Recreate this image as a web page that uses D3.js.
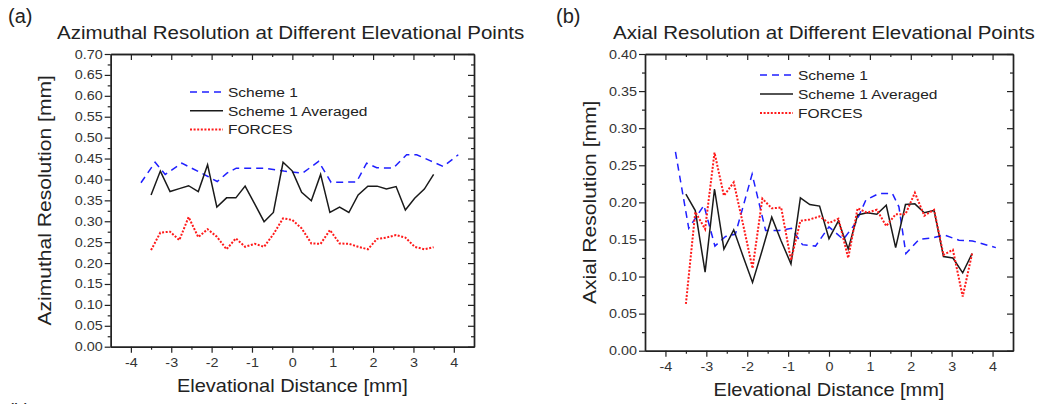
<!DOCTYPE html>
<html>
<head>
<meta charset="utf-8">
<script src="https://cdn.jsdelivr.net/npm/d3@7"></script>
<style>
  body { margin: 0; background: #fff; }
  svg { display: block; font-family: "Liberation Sans", Arial, sans-serif; }
</style>
</head>
<body>
<svg id="fig" width="1047" height="404"></svg>
<script>
// ---- data -------------------------------------------------------------
// Elevational sample positions (mm) of the averaged and FORCES series
const elevation = [-3.50, -3.27, -3.03, -2.80, -2.57, -2.33, -2.10, -1.87, -1.63, -1.40,
  -1.17, -0.93, -0.70, -0.47, -0.23, 0.00, 0.23, 0.47, 0.70, 0.93, 1.17, 1.40, 1.63,
  1.87, 2.10, 2.33, 2.57, 2.80, 3.03, 3.27, 3.50];

// (a) azimuthal resolution [mm]
const azScheme1X = [-3.75, -3.40, -3.15, -2.74, -2.33, -2.09, -1.86, -1.62, -1.39, -0.68,
  -0.21, 0.25, 0.65, 0.96, 1.59, 1.84, 2.09, 2.50, 2.83, 3.08, 3.41, 3.74, 4.11];
const azScheme1 = [0.392, 0.441, 0.412, 0.439, 0.419, 0.407, 0.395, 0.415, 0.427, 0.427,
  0.420, 0.415, 0.443, 0.393, 0.394, 0.439, 0.428, 0.427, 0.459, 0.459, 0.445, 0.431, 0.459];
const azAveraged = [0.363, 0.420, 0.371, 0.378, 0.385, 0.371, 0.435, 0.334, 0.356, 0.356,
  0.384, 0.341, 0.299, 0.321, 0.441, 0.420, 0.369, 0.349, 0.412, 0.321, 0.334, 0.321,
  0.363, 0.384, 0.384, 0.377, 0.383, 0.327, 0.355, 0.377, 0.412];
const azForces = [0.231, 0.273, 0.275, 0.255, 0.310, 0.262, 0.281, 0.263, 0.233, 0.259,
  0.239, 0.246, 0.239, 0.269, 0.307, 0.303, 0.283, 0.247, 0.246, 0.279, 0.247, 0.246,
  0.239, 0.233, 0.258, 0.261, 0.267, 0.261, 0.239, 0.233, 0.238];

// (b) axial resolution [mm]
const axScheme1X = [-3.755, -3.43, -3.06, -2.79, -2.53, -2.29, -1.88, -1.55, -1.22, -0.92,
  -0.65, -0.33, 0.00, 0.35, 0.65, 0.90, 1.22, 1.55, 1.71, 1.88, 2.20, 2.53, 2.82, 3.18, 3.51, 4.08];
const axScheme1 = [0.268, 0.165, 0.196, 0.141, 0.154, 0.157, 0.238, 0.162, 0.162, 0.165,
  0.143, 0.141, 0.167, 0.150, 0.172, 0.203, 0.212, 0.212, 0.194, 0.131, 0.150, 0.152,
  0.156, 0.149, 0.148, 0.139];
const axAveraged = [0.211, 0.189, 0.106, 0.218, 0.137, 0.163, 0.127, 0.092, 0.136, 0.180,
  0.148, 0.117, 0.206, 0.197, 0.195, 0.151, 0.175, 0.137, 0.183, 0.186, 0.184, 0.196,
  0.139, 0.197, 0.198, 0.186, 0.189, 0.127, 0.125, 0.105, 0.131];
const axForces = [0.063, 0.187, 0.164, 0.267, 0.209, 0.227, 0.170, 0.111, 0.205, 0.192,
  0.193, 0.122, 0.175, 0.177, 0.181, 0.172, 0.178, 0.125, 0.192, 0.186, 0.190, 0.168,
  0.184, 0.184, 0.213, 0.182, 0.190, 0.129, 0.136, 0.073, 0.131];

// ticks
const xTickValues = [-4, -3, -2, -1, 0, 1, 2, 3, 4];
const azTickValues = [0, 0.05, 0.10, 0.15, 0.20, 0.25, 0.30, 0.35, 0.40, 0.45, 0.50, 0.55, 0.60, 0.65, 0.70];
const axTickValues = [0, 0.05, 0.10, 0.15, 0.20, 0.25, 0.30, 0.35, 0.40];
const seriesNames = ["Scheme 1", "Scheme 1 Averaged", "FORCES"];

// ---- drawing ----------------------------------------------------------
const svg = d3.select("#fig");
const INK = "#222";
const WIDE = 1.15;   // horizontal stretch of the lettering
const styles = [
  { color: "#1f1fff", width: 1.5, dash: "7,5" },
  { color: "#1a1a1a", width: 1.5, dash: null },
  { color: "#ff1a1a", width: 2, dash: "2,1.6" }
];

// text placed at (x, y), widened horizontally by sx
function wideText(parent, x, y, str, size, sx, anchor) {
  return parent.append("text")
    .attr("transform", `translate(${x},${y}) scale(${sx},1)`)
    .attr("text-anchor", anchor || "start")
    .attr("fill", INK)
    .style("font-size", size + "px")
    .text(str);
}

function drawPanel(cfg) {
  const g = svg.append("g");
  const x = d3.scaleLinear().domain([-4.5, 4.5]).range([cfg.left, cfg.right]);
  const y = d3.scaleLinear().domain([0, cfg.yMax]).range([cfg.bottom, cfg.top]);

  const xMinor = d3.range(-3.5, 4, 1);
  const yMinor = d3.range(0.025, cfg.yMax, 0.05);

  const styleAxis = sel => {
    sel.selectAll(".domain").attr("stroke", INK).attr("stroke-width", 1.4);
    sel.selectAll(".tick line").attr("stroke", INK).attr("stroke-width", 1.2);
    sel.selectAll(".tick text").attr("fill", "#333").style("font-size", "12.5px")
      .style("font-family", "'Liberation Sans', Arial, sans-serif")
      .each(function () {
        const t = d3.select(this);
        const xv = +t.attr("x") || 0;
        t.attr("x", xv / WIDE).attr("transform", `scale(${WIDE},1)`);
      });
  };

  // bottom axis
  g.append("g").attr("transform", `translate(0,${cfg.bottom})`)
    .call(d3.axisBottom(x).tickValues(xMinor).tickSize(3).tickSizeOuter(0).tickFormat(""))
    .call(styleAxis);
  g.append("g").attr("transform", `translate(0,${cfg.bottom})`)
    .call(d3.axisBottom(x).tickValues(xTickValues).tickSize(6).tickSizeOuter(0).tickPadding(5)
      .tickFormat(d => String(d)))
    .call(styleAxis);
  // top axis, ticks pointing inward
  g.append("g").attr("transform", `translate(0,${cfg.top})`)
    .call(d3.axisBottom(x).tickValues(xMinor).tickSize(3).tickSizeOuter(0).tickFormat(""))
    .call(styleAxis);
  g.append("g").attr("transform", `translate(0,${cfg.top})`)
    .call(d3.axisBottom(x).tickValues(xTickValues).tickSize(6).tickSizeOuter(0).tickFormat(""))
    .call(styleAxis);
  // left axis
  g.append("g").attr("transform", `translate(${cfg.left},0)`)
    .call(d3.axisLeft(y).tickValues(yMinor).tickSize(3).tickSizeOuter(0).tickFormat(""))
    .call(styleAxis);
  g.append("g").attr("transform", `translate(${cfg.left},0)`)
    .call(d3.axisLeft(y).tickValues(cfg.ticks).tickSize(6).tickSizeOuter(0).tickPadding(2)
      .tickFormat(d3.format(".2f")))
    .call(styleAxis);
  // right axis, ticks pointing inward
  g.append("g").attr("transform", `translate(${cfg.right},0)`)
    .call(d3.axisLeft(y).tickValues(yMinor).tickSize(3).tickSizeOuter(0).tickFormat(""))
    .call(styleAxis);
  g.append("g").attr("transform", `translate(${cfg.right},0)`)
    .call(d3.axisLeft(y).tickValues(cfg.ticks).tickSize(6).tickSizeOuter(0).tickFormat(""))
    .call(styleAxis);

  // series
  const line = d3.line().x(d => x(d[0])).y(d => y(d[1]));
  cfg.series.forEach((s, i) => {
    const st = styles[i];
    g.append("path")
      .datum(d3.zip(s.x, s.y))
      .attr("d", line)
      .attr("fill", "none")
      .attr("stroke", st.color)
      .attr("stroke-width", st.width)
      .attr("stroke-linejoin", "miter")
      .attr("stroke-dasharray", st.dash);
  });

  // legend
  const lg = g.append("g").attr("transform", `translate(${cfg.legend[0]},${cfg.legend[1]})`);
  seriesNames.forEach((name, i) => {
    const st = styles[i];
    const ly = i * cfg.legendStep;
    lg.append("line").attr("x1", 0).attr("x2", 33).attr("y1", ly).attr("y2", ly)
      .attr("stroke", st.color).attr("stroke-width", st.width)
      .attr("stroke-dasharray", st.dash);
    wideText(lg, 38, ly + 5, name, 13.5, WIDE);
  });

  // titles and axis labels
  svg.append("text").attr("x", cfg.tagX).attr("y", 23).attr("fill", INK)
    .style("font-size", "20px").text(cfg.tag);
  wideText(svg, cfg.titleX, 38.5, cfg.title, 18.5, 1.11);
  svg.append("text")
    .attr("transform", `translate(${cfg.ylabX},${(cfg.top + cfg.bottom) / 2}) rotate(-90) scale(1.17,1)`)
    .attr("text-anchor", "middle").attr("fill", INK)
    .style("font-size", "18px").text(cfg.ylabel);
  wideText(svg, (cfg.left + cfg.right) / 2, cfg.bottom + 45, "Elevational Distance [mm]", 18, 1.11, "middle");
}

drawPanel({
  left: 110.7, right: 474, top: 54, bottom: 346.7, yMax: 0.70, ticks: azTickValues,
  series: [
    { x: azScheme1X, y: azScheme1 },
    { x: elevation, y: azAveraged },
    { x: elevation, y: azForces }
  ],
  legend: [190, 92], legendStep: 18.7,
  tag: "(a)", tagX: 8, title: "Azimuthal Resolution at Different Elevational Points", titleX: 57,
  ylabel: "Azimuthal Resolution [mm]", ylabX: 51
});

drawPanel({
  left: 645, right: 1013, top: 54, bottom: 350.7, yMax: 0.40, ticks: axTickValues,
  series: [
    { x: axScheme1X, y: axScheme1 },
    { x: elevation, y: axAveraged },
    { x: elevation, y: axForces }
  ],
  legend: [760, 75], legendStep: 19,
  tag: "(b)", tagX: 556, title: "Axial Resolution at Different Elevational Points", titleX: 613,
  ylabel: "Axial Resolution [mm]", ylabX: 596
});

// heading of the following panel, cut by the bottom edge
svg.append("text").attr("x", 8).attr("y", 416).attr("fill", INK)
  .style("font-size", "18px").text("(b)");
</script>
</body>
</html>
